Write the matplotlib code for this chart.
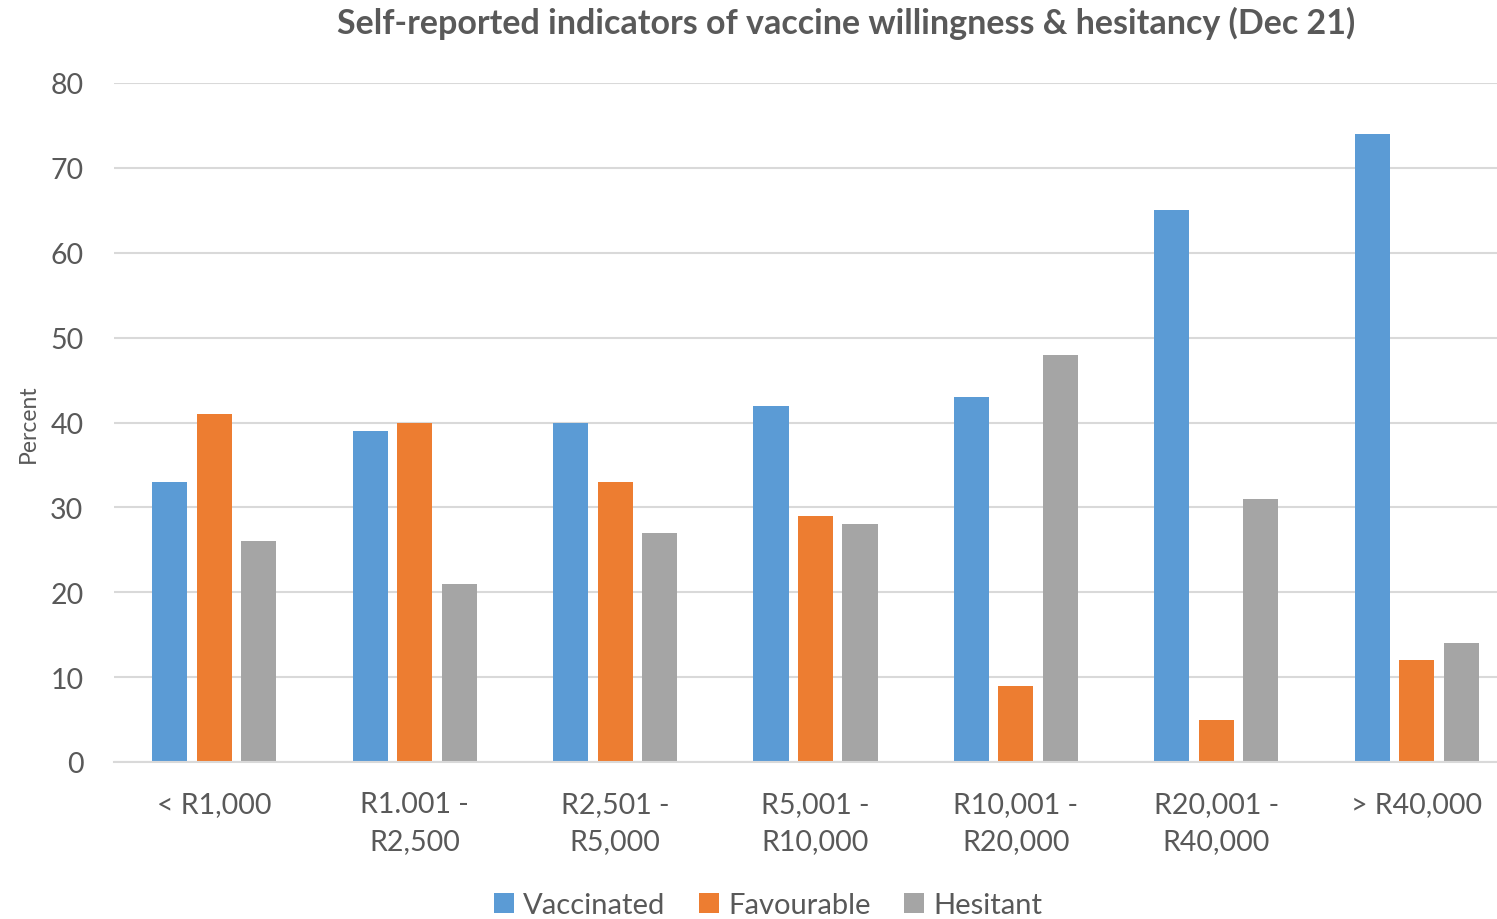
import matplotlib.pyplot as plt
import numpy as np
from matplotlib.patches import Patch

plt.rcParams["font.family"] = ["Lato", "DejaVu Sans"]

INCOME_BANDS = [
    "< R1,000",
    "R1.001 -\nR2,500",
    "R2,501 -\nR5,000",
    "R5,001 -\nR10,000",
    "R10,001 -\nR20,000",
    "R20,001 -\nR40,000",
    "> R40,000",
]
VACCINATED = [33, 39, 40, 42, 43, 65, 74]
FAVOURABLE = [41, 40, 33, 29, 9, 5, 12]
HESITANT = [26, 21, 27, 28, 48, 31, 14]
SERIES_NAMES = ["Vaccinated", "Favourable", "Hesitant"]
Y_TICKS = [0, 10, 20, 30, 40, 50, 60, 70, 80]

COLORS = ["#5B9BD5", "#ED7D31", "#A5A5A5"]
TEXT = "#595959"
GRID = "#D9D9D9"

fig = plt.figure(figsize=(14.97, 9.2), dpi=100)
ax = fig.add_axes([114 / 1497, 157 / 920, 1403 / 1497, 679 / 920])

x = np.arange(len(INCOME_BANDS))
width = 0.175
step = 0.222
for i, (values, color) in enumerate(zip([VACCINATED, FAVOURABLE, HESITANT], COLORS)):
    ax.bar(x + (i - 1) * step, values, width=width, color=color, zorder=3)

ax.set_xlim(-0.5, len(INCOME_BANDS) - 0.5)
ax.set_ylim(0, 80)
ax.set_yticks(Y_TICKS)
ax.yaxis.grid(True, color=GRID, linewidth=1.5, zorder=0)
ax.set_axisbelow(True)
for side in ["top", "right", "left"]:
    ax.spines[side].set_visible(False)
ax.spines["bottom"].set_color(GRID)
ax.spines["bottom"].set_linewidth(1.5)
ax.spines["bottom"].set_zorder(4)

ax.set_xticks(x)
ax.set_xticklabels(INCOME_BANDS, linespacing=1.5)
ax.tick_params(axis="x", length=0, pad=21, labelsize=20.5, labelcolor=TEXT)
ax.tick_params(axis="y", length=0, pad=22, labelsize=20.5, labelcolor=TEXT)

fig.text(28 / 1497, 1 - 424 / 920, "Percent", rotation=90, ha="center", va="center",
         fontsize=16.5, color=TEXT)

fig.text(846 / 1497, 1 - 23 / 920,
         "Self-reported indicators of vaccine willingness & hesitancy (Dec 21)",
         ha="center", va="center", fontsize=24.5, fontweight="bold", color=TEXT)

handles = [Patch(facecolor=c, edgecolor="none") for c in COLORS]
fig.legend(handles, SERIES_NAMES, loc="center", bbox_to_anchor=(768 / 1497, 1 - 906 / 920),
           ncol=3, frameon=False, fontsize=21, labelcolor=TEXT,
           handlelength=0.7, handleheight=0.7, handletextpad=0.3, columnspacing=1.15,
           borderpad=0)

fig.savefig("out.png", dpi=100)
